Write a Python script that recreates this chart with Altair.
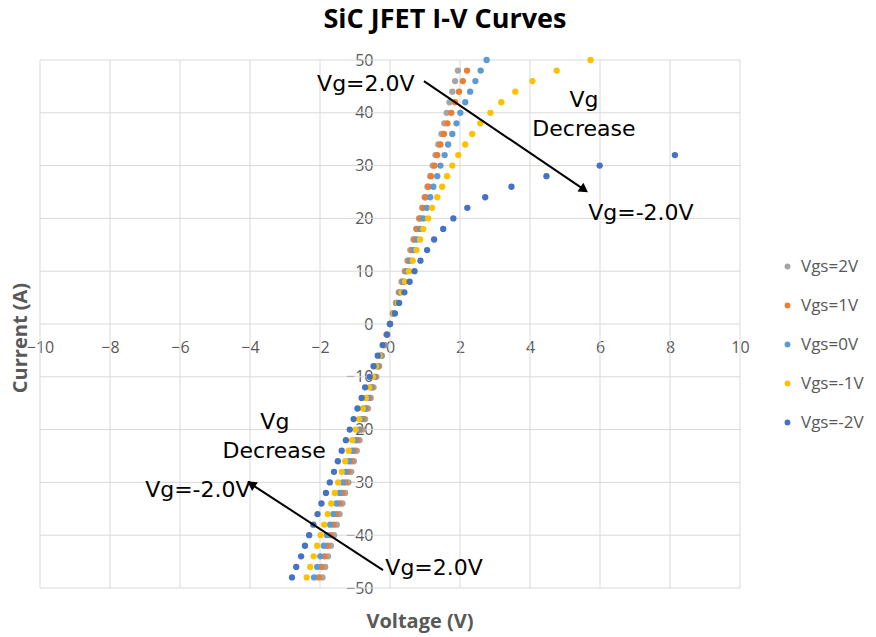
import math
import altair as alt
import pandas as pd

# ---------------- data ----------------
series_names = ["Vgs=2V", "Vgs=1V", "Vgs=0V", "Vgs=-1V", "Vgs=-2V"]
series_colors = ["#A5A5A5", "#ED7D31", "#5B9BD5", "#FFC000", "#4472C4"]

I_2V = [-48, -46, -44, -42, -40, -38, -36, -34, -32, -30, -28, -26, -24, -22, -20, -18, -16, -14, -12, -10,
        -8, -6, -4, -2, 0, 2, 4, 6, 8, 10, 12, 14, 16, 18, 20, 22, 24, 26, 28, 30, 32, 34, 36, 38, 40, 42, 44, 46, 48]
V_2V = [-1.93, -1.85, -1.77, -1.69, -1.60, -1.52, -1.44, -1.36, -1.28, -1.19, -1.11, -1.03, -0.95, -0.87, -0.79,
        -0.71, -0.63, -0.55, -0.47, -0.39, -0.31, -0.23, -0.15, -0.08, 0.00,
        0.08, 0.17, 0.25, 0.33, 0.42, 0.50, 0.58, 0.67, 0.75, 0.83, 0.92, 0.99, 1.07, 1.15, 1.22, 1.30, 1.38,
        1.47, 1.55, 1.62, 1.70, 1.78, 1.86, 1.94]

I_1V = [-48, -46, -44, -42, -40, -38, -36, -34, -32, -30, -28, -26, -24, -22, -20, -18, -16, -14, -12, -10,
        -8, -6, -4, -2, 0, 2, 4, 6, 8, 10, 12, 14, 16, 18, 20, 22, 24, 26, 28, 30, 32, 34, 36, 38, 40, 42, 44, 46, 48]
V_1V = [-2.04, -1.96, -1.87, -1.79, -1.70, -1.61, -1.53, -1.44, -1.36, -1.27, -1.19, -1.10, -1.02, -0.93, -0.85,
        -0.76, -0.68, -0.59, -0.51, -0.42, -0.34, -0.25, -0.17, -0.08, 0.00,
        0.09, 0.18, 0.27, 0.36, 0.45, 0.53, 0.62, 0.70, 0.77, 0.86, 0.94, 1.01, 1.10, 1.17, 1.27, 1.35, 1.44,
        1.54, 1.64, 1.75, 1.86, 1.97, 2.08, 2.20]

I_0V = [-48, -46, -44, -42, -40, -38, -36, -34, -32, -30, -28, -26, -24, -22, -20, -18, -16, -14, -12, -10,
        -8, -6, -4, -2, 0, 2, 4, 6, 8, 10, 12, 14, 16, 18, 20, 22, 24, 26, 28, 30, 32, 34, 36, 38, 40, 42, 44, 46,
        48, 50]
V_0V = [-2.17, -2.08, -1.99, -1.89, -1.80, -1.71, -1.62, -1.53, -1.44, -1.35, -1.26, -1.17, -1.08, -0.99, -0.90,
        -0.81, -0.72, -0.63, -0.54, -0.45, -0.36, -0.27, -0.18, -0.09, 0.00,
        0.10, 0.19, 0.29, 0.39, 0.49, 0.58, 0.68, 0.77, 0.87, 0.95, 1.05, 1.15, 1.24, 1.35, 1.44, 1.56, 1.66,
        1.78, 1.90, 2.01, 2.15, 2.29, 2.44, 2.59, 2.76]

I_M1V = [-48, -46, -44, -42, -40, -38, -36, -34, -32, -30, -28, -26, -24, -22, -20, -18, -16, -14, -12, -10,
         -8, -6, -4, -2, 0, 2, 4, 6, 8, 10, 12, 14, 16, 18, 20, 22, 24, 26, 28, 30, 32, 34, 36, 38, 40, 42, 44, 46,
         48, 50]
V_M1V = [-2.38, -2.28, -2.18, -2.08, -1.98, -1.88, -1.78, -1.68, -1.58, -1.48, -1.38, -1.28, -1.18, -1.08, -0.98,
         -0.88, -0.78, -0.69, -0.59, -0.49, -0.40, -0.30, -0.20, -0.10, 0.00,
         0.11, 0.22, 0.33, 0.43, 0.54, 0.65, 0.76, 0.86, 0.95, 1.09, 1.20, 1.35, 1.49, 1.63, 1.78, 1.95, 2.15,
         2.35, 2.58, 2.87, 3.18, 3.58, 4.07, 4.76, 5.73]

I_M2V = [-48, -46, -44, -42, -40, -38, -36, -34, -32, -30, -28, -26, -24, -22, -20, -18, -16, -14, -12, -10,
         -8, -6, -4, -2, 0, 2, 4, 6, 8, 10, 12, 14, 16, 18, 20, 22, 24, 26, 28, 30, 32]
V_M2V = [-2.80, -2.68, -2.54, -2.43, -2.31, -2.19, -2.07, -1.96, -1.83, -1.72, -1.60, -1.49, -1.38, -1.26, -1.15,
         -1.04, -0.93, -0.81, -0.71, -0.58, -0.47, -0.35, -0.21, -0.09, 0.00,
         0.14, 0.26, 0.41, 0.56, 0.70, 0.87, 1.06, 1.26, 1.52, 1.81, 2.21, 2.72, 3.47, 4.47, 5.99, 8.14]

x_ticks = [-10, -8, -6, -4, -2, 0, 2, 4, 6, 8, 10]
y_ticks = [-50, -40, -30, -20, -10, 0, 10, 20, 30, 40, 50]

# annotations (data units)
note_text = ["Vg=2.0V", "Vg", "Decrease", "Vg=-2.0V", "Vg", "Decrease", "Vg=-2.0V", "Vg=2.0V"]
note_v = [-0.69, 5.54, 5.54, 7.17, -3.29, -3.31, -5.49, 1.26]
note_i = [45.5, 42.4, 36.9, 21.0, -18.6, -24.1, -31.4, -46.2]

arrow_v0 = [0.97, -0.20]
arrow_i0 = [46.0, -46.6]
arrow_v1 = [5.69, -4.11]
arrow_i1 = [24.8, -29.7]

title_text = "SiC JFET I-V Curves"
x_title = "Voltage (V)"
y_title = "Current (A)"

# ---------------- build ----------------
W, H = 700, 528
X_DOM = [-10, 10]
Y_DOM = [-50, 50]
px_v = W / (X_DOM[1] - X_DOM[0])
px_a = H / (Y_DOM[1] - Y_DOM[0])

frames = []
for name, I, V in zip(series_names,
                      [I_2V, I_1V, I_0V, I_M1V, I_M2V],
                      [V_2V, V_1V, V_0V, V_M1V, V_M2V]):
    frames.append(pd.DataFrame({"series": name, "V": V, "I": I}))
df = pd.concat(frames, ignore_index=True)

xs = alt.Scale(domain=X_DOM, nice=False, zero=False)
ys = alt.Scale(domain=Y_DOM, nice=False, zero=False)

GRID = "#D9D9D9"
LABEL = "#595959"

x_axis = alt.Axis(values=x_ticks, title=None, grid=False, domain=False, ticks=False, offset=-H / 2,
                  labelPadding=15, labelFont="Open Sans", labelFontSize=16, labelColor=LABEL,
                  labelFlush=False, labelOverlap=False, labelBound=False)
y_axis = alt.Axis(values=y_ticks, title=None, grid=False, domain=False, ticks=False, offset=-W / 2,
                  labelPadding=17, labelFont="Open Sans", labelFontSize=16, labelColor=LABEL,
                  labelFlush=False, labelOverlap=False, labelBound=False)


def X(field):
    return alt.X(field, scale=xs, axis=x_axis)


def Y(field):
    return alt.Y(field, scale=ys, axis=y_axis)


grid_v = alt.Chart(pd.DataFrame({"v": x_ticks})).mark_rule(color=GRID, strokeWidth=1).encode(
    x=X("v:Q"))
grid_h = alt.Chart(pd.DataFrame({"i": y_ticks})).mark_rule(color=GRID, strokeWidth=1).encode(
    y=Y("i:Q"))

points = alt.Chart(df).mark_circle(size=40, opacity=1).encode(
    x=X("V:Q"),
    y=Y("I:Q"),
    color=alt.Color("series:N", sort=series_names,
                    scale=alt.Scale(domain=series_names, range=series_colors),
                    legend=alt.Legend(orient="none", legendX=739, legendY=198, title=None,
                                      labelFont="Open Sans", labelFontSize=17, labelColor=LABEL,
                                      symbolType="circle", symbolSize=34, labelOffset=5,
                                      rowPadding=21, padding=0)),
)

# arrows
heads = []
for x0, y0, x1, y1 in zip(arrow_v0, arrow_i0, arrow_v1, arrow_i1):
    dx = (x1 - x0) * px_v
    dy = -(y1 - y0) * px_a
    L = math.hypot(dx, dy)
    ux, uy = dx / L, dy / L
    ang = math.degrees(math.atan2(dx, -dy)) % 360
    back = 6
    hx = x1 - ux * back / px_v
    hy = y1 + uy * back / px_a
    heads.append({"x0": x0, "y0": y0, "hx": hx, "hy": hy, "ang": ang})
heads_df = pd.DataFrame(heads)

arrow_lines = alt.Chart(heads_df).mark_rule(color="black", strokeWidth=2).encode(
    x=X("x0:Q"), y=Y("y0:Q"), x2="hx:Q", y2="hy:Q")
arrow_heads = alt.Chart(heads_df).mark_point(shape="triangle-up", filled=True, size=110,
                                             color="black", opacity=1).encode(
    x=X("hx:Q"), y=Y("hy:Q"), angle=alt.Angle("ang:Q", scale=None))

notes = alt.Chart(pd.DataFrame({"t": note_text, "v": note_v, "i": note_i})).mark_text(
    font="DejaVu Sans", fontSize=22, color="black", align="center", baseline="middle").encode(
    x=X("v:Q"), y=Y("i:Q"), text="t:N")

title = alt.Chart(pd.DataFrame({"t": [title_text]})).mark_text(
    font="Open Sans", fontSize=27, fontWeight="bold", color="black", align="center",
    baseline="middle").encode(text="t:N", x=alt.value(405), y=alt.value(-40))
xt = alt.Chart(pd.DataFrame({"t": [x_title]})).mark_text(
    font="Open Sans", fontSize=20, fontWeight="bold", color=LABEL, align="center",
    baseline="middle").encode(text="t:N", x=alt.value(380), y=alt.value(562))
yt = alt.Chart(pd.DataFrame({"t": [y_title]})).mark_text(
    font="Open Sans", fontSize=20, fontWeight="bold", color=LABEL, align="center",
    baseline="middle", angle=270).encode(text="t:N", x=alt.value(-19), y=alt.value(278))

chart = alt.layer(grid_v, grid_h, points, arrow_lines, arrow_heads, notes, title, xt, yt).properties(
    width=W, height=H,
    padding={"left": 40, "top": 60, "right": 136, "bottom": 49},
    autosize=alt.AutoSizeParams(type="none"),
    background="white",
).configure_view(stroke=None)

chart.save("out.html", embed_options={"renderer": "svg", "actions": False})
